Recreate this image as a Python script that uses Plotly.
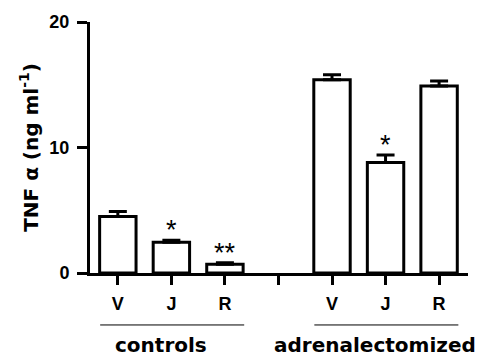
import plotly.graph_objects as go

labels = ["V", "J", "R", "", "V", "J", "R"]
means = [4.5, 2.45, 0.7, None, 15.4, 8.8, 14.9]
sems = [0.4, 0.15, 0.12, None, 0.4, 0.6, 0.4]
stars = ["", "*", "**", "", "", "*", ""]
groups = ["controls", "adrenalectomized"]
group_members = [[0, 1, 2], [4, 5, 6]]
yticks = [0, 10, 20]

ARIAL = "Liberation Sans, Arial, sans-serif"
WIDE = "DejaVu Sans, sans-serif"

x = list(range(len(labels)))
bx = [i for i in x if means[i] is not None]
by = [means[i] for i in bx]
be = [sems[i] for i in bx]

fig = go.Figure()
fig.add_trace(go.Bar(
    x=bx, y=by, width=0.68,
    marker=dict(color="white", line=dict(color="black", width=3)),
    error_y=dict(type="data", array=be, arrayminus=[0] * len(be), symmetric=False,
                 color="black", thickness=3, width=9),
    showlegend=False,
))

for i in x:
    if stars[i]:
        fig.add_annotation(x=i, y=means[i] + sems[i], text=stars[i], showarrow=False,
                           yanchor="bottom", yshift=-7,
                           font=dict(family=ARIAL, size=27, color="black"))

for g, members in zip(groups, group_members):
    x0 = members[0] - 0.33
    x1 = members[-1] + 0.36
    fig.add_shape(type="line", xref="x", yref="paper", x0=x0, x1=x1, y0=-0.207, y1=-0.207,
                  line=dict(color="black", width=1))
    fig.add_annotation(x=(x0 + x1) / 2, xshift=-11, y=-0.285, xref="x", yref="paper",
                       text=g, showarrow=False, yanchor="middle",
                       font=dict(family=WIDE, size=20, color="black", weight="bold"))

fig.update_layout(
    width=481, height=348,
    margin=dict(l=82, r=21, t=14, b=83),
    paper_bgcolor="white", plot_bgcolor="white",
    font=dict(family=ARIAL, color="black"),
)
fig.update_xaxes(
    range=[-0.52, 6.54], tickmode="array", tickvals=x, ticktext=labels,
    showline=True, linecolor="black", linewidth=3, ticks="outside", ticklen=9,
    tickwidth=3, tickcolor="black", showgrid=False, zeroline=False, automargin=False,
    ticklabelstandoff=3,
    tickfont=dict(family=ARIAL, size=18, weight="bold"),
)
fig.update_yaxes(
    range=[0, 20], tickvals=yticks, showline=True, linecolor="black", linewidth=3,
    ticks="outside", ticklen=10, tickwidth=3, tickcolor="black", showgrid=False,
    zeroline=False, automargin=False, ticklabelstandoff=4,
    tickfont=dict(family=ARIAL, size=18, weight="bold"),
    title=dict(text="TNF α (ng ml<sup>-1</sup>)",
               font=dict(family=WIDE, size=20, weight="bold"), standoff=6),
)
fig.write_html("out.html")
